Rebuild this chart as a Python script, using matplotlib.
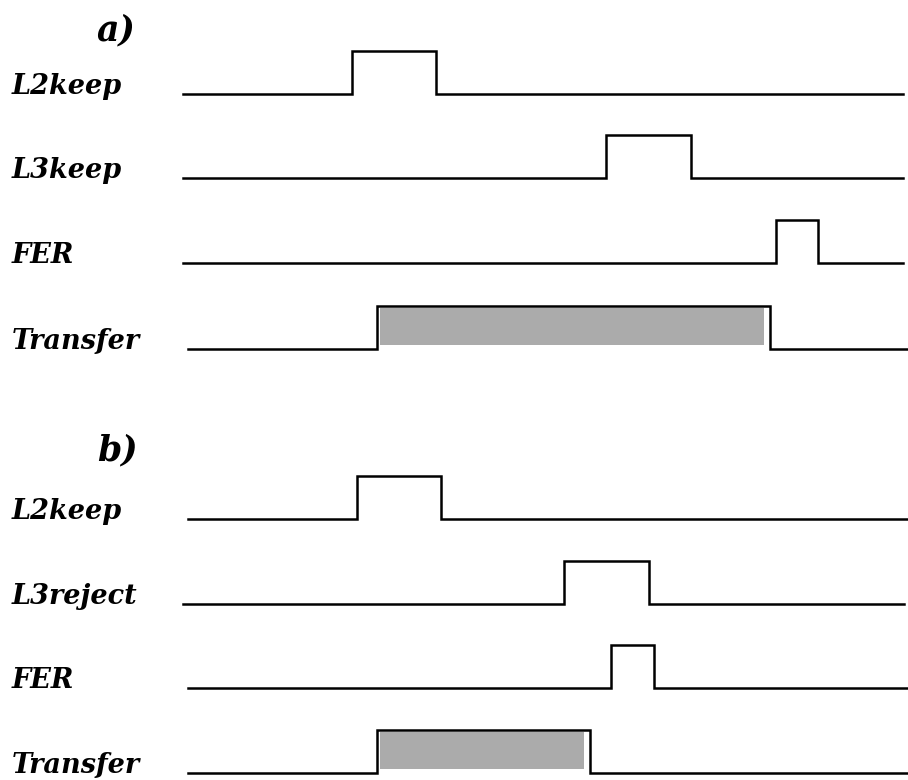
import matplotlib.pyplot as plt

# Tiempos de los flancos (subida, bajada) de cada señal, en unidades de tiempo arbitrarias
senales_a = ["L2keep", "L3keep", "FER", "Transfer"]
inicio_a = [183, 183, 183, 188]
fin_a = [903, 903, 903, 907]
pulso_a = [(352, 436), (606, 691), (776, 818), (377, 770)]

senales_b = ["L2keep", "L3reject", "FER", "Transfer"]
inicio_b = [188, 183, 188, 188]
fin_b = [908, 904, 908, 908]
pulso_b = [(357, 441), (564, 649), (611, 654), (377, 590)]

paneles = ["a)", "b)"]

# Geometria del diagrama (en pixeles de la figura)
base_a = [94, 178, 263, 349]
base_b = [519, 604, 688, 773]
alto = 43
color_relleno = "#ababab"
fuente = dict(family="DejaVu Serif", style="italic", weight="heavy")

fig = plt.figure(figsize=(9.08, 7.80), dpi=100)
ax = fig.add_axes([0, 0, 1, 1])
ax.set_xlim(0, 908)
ax.set_ylim(780, 0)
ax.axis("off")


def dibujar_senal(ax, nombre, y0, t_ini, t_fin, pulso):
    t_up, t_down = pulso
    xs = [t_ini, t_up, t_up, t_down, t_down, t_fin]
    ys = [y0, y0, y0 - alto, y0 - alto, y0, y0]
    ax.plot(xs, ys, color="black", lw=1.8, solid_joinstyle="miter")
    if nombre == "Transfer":
        # zona sombreada mientras dura la transferencia
        ax.fill_between([t_up + 3, t_down - 6], y0 - alto + 2, y0 - 4,
                        color=color_relleno, lw=0)
    ax.text(12, y0, nombre, fontsize=19.5, va="baseline", ha="left", **fuente)


for nombre, y0, ti, tf, p in zip(senales_a, base_a, inicio_a, fin_a, pulso_a):
    dibujar_senal(ax, nombre, y0, ti, tf, p)
for nombre, y0, ti, tf, p in zip(senales_b, base_b, inicio_b, fin_b, pulso_b):
    dibujar_senal(ax, nombre, y0, ti, tf, p)

ax.text(97, 40, paneles[0], fontsize=25, va="baseline", ha="left", **fuente)
ax.text(97, 460, paneles[1], fontsize=25, va="baseline", ha="left", **fuente)

fig.savefig("out.png", dpi=100)
